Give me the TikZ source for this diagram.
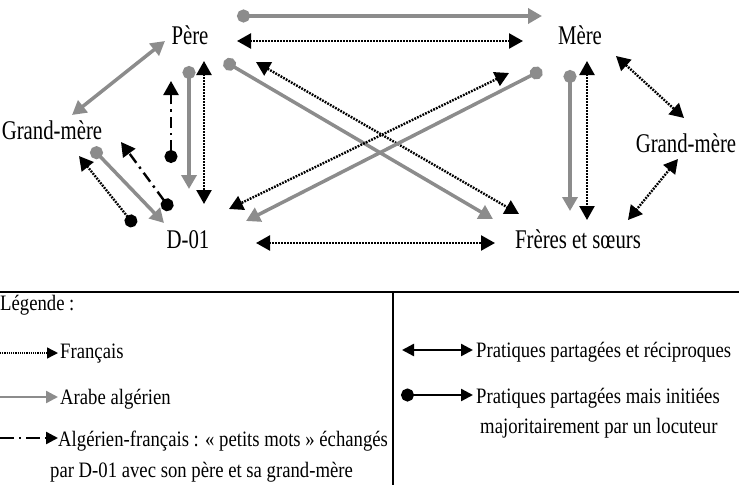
\documentclass[tikz,border=0pt]{standalone}
\usepackage{fontspec}
\setmainfont{Liberation Serif}
\newfontfamily\labelfont[FakeStretch=0.77]{Liberation Serif}
\newfontfamily\legfont[FakeStretch=0.85]{Liberation Serif}
\usetikzlibrary{arrows.meta}
\definecolor{grayline}{HTML}{8C8C8C}
\tikzset{
  lbl/.style={inner sep=0pt, anchor=base, font=\labelfont\fontsize{27}{30}\selectfont},
  leg/.style={inner sep=0pt, anchor=base west, font=\legfont\fontsize{22}{25}\selectfont},
  fr/.style={black, line width=2.4pt, dash pattern=on 1.8pt off 1.2pt},
  ar/.style={grayline, line width=3.5pt},
  af/.style={black, line width=2.4pt, dash pattern=on 11pt off 5pt on 2.4pt off 5pt},
  tri/.style={-{Triangle[length=14pt,width=16pt]}},
  dtri/.style={{Triangle[length=14pt,width=15pt]}-{Triangle[length=14pt,width=15pt]}},
  dot/.style={{Circle[length=13pt]}-{Triangle[length=14pt,width=15pt]}},
}
\begin{document}
\begin{tikzpicture}[x=1pt,y=-1pt]
\useasboundingbox (0,0) rectangle (739,485);
% nodes
\node[lbl] (pere) at (190,44) {Père};
\node[lbl] (mere) at (580,44) {Mère};
\node[lbl] (gml) at (52,139) {Grand-mère};
\node[lbl] (gmr) at (686,152) {Grand-mère};
\node[lbl] (d01) at (188,248) {D-01};
\node[lbl] (fs) at (578,248) {Frères et sœurs};
% coordinates
\coordinate (a1) at (237,16); \coordinate (a2) at (542,16);
\coordinate (b1) at (237,41); \coordinate (b2) at (523,41);
\coordinate (c1) at (165,41); \coordinate (c2) at (72,115);
\coordinate (e1) at (189,66); \coordinate (e2) at (189,189);
\coordinate (f1) at (204,61); \coordinate (f2) at (204,204);
\coordinate (g1) at (171,163); \coordinate (g2) at (171,81);
\coordinate (h1) at (92,148); \coordinate (h2) at (164,223);
\coordinate (i1) at (135,226); \coordinate (i2) at (79,156);
\coordinate (j1) at (171,210); \coordinate (j2) at (121,142);
\coordinate (k1) at (224,61); \coordinate (k2) at (493,219);
\coordinate (l1) at (256,62); \coordinate (l2) at (519,214);
\coordinate (m1) at (509,73); \coordinate (m2) at (229,209);
\coordinate (n1) at (542,70); \coordinate (n2) at (246,221);
\coordinate (o1) at (570,70); \coordinate (o2) at (570,211);
\coordinate (p1) at (587,61); \coordinate (p2) at (587,220);
\coordinate (q1) at (616,56); \coordinate (q2) at (684,118);
\coordinate (r1) at (678,159); \coordinate (r2) at (628,220);
\coordinate (s1) at (256,243); \coordinate (s2) at (495,243);
% connectors
\draw[ar,dot] (a1) -- (a2);
\draw[fr,dtri] (b1) -- (b2);
\draw[ar,dtri] (c1) -- (c2);
\draw[ar,dot] (e1) -- (e2);
\draw[fr,dtri] (f1) -- (f2);
\draw[af,dot] (g1) -- (g2);
\draw[ar,dot] (h1) -- (h2);
\draw[fr,dot] (i1) -- (i2);
\draw[af,dot] (j1) -- (j2);
\draw[ar,dot] (k1) -- (k2);
\draw[fr,dtri] (l1) -- (l2);
\draw[fr,dtri] (m1) -- (m2);
\draw[ar,dot] (n1) -- (n2);
\draw[ar,dot] (o1) -- (o2);
\draw[fr,dtri] (p1) -- (p2);
\draw[fr,dtri] (q1) -- (q2);
\draw[fr,dtri] (r1) -- (r2);
\draw[fr,dtri] (s1) -- (s2);
% legend frame
\coordinate (hl1) at (0,292); \coordinate (hl2) at (739,292);
\coordinate (vl1) at (393,292); \coordinate (vl2) at (393,485);
\draw[line width=1.2pt] (hl1) -- (hl2);
\draw[line width=1.2pt] (vl1) -- (vl2);
% legend entries
\node[leg] (lg) at (0,310) {Légende :};
\coordinate (lf1) at (0,353); \coordinate (lf2) at (58,353);
\draw[black, line width=1.4pt, dash pattern=on 1.2pt off 1pt, -{Triangle[length=11pt,width=11pt]}] (lf1) -- (lf2);
\node[leg] (lft) at (60,358) {Français};
\coordinate (la1) at (0,397); \coordinate (la2) at (58,397);
\draw[grayline, line width=2.4pt, -{Triangle[length=12pt,width=12pt]}] (la1) -- (la2);
\node[leg] (lat) at (60,404) {Arabe algérien};
\coordinate (lh1) at (0,438); \coordinate (lh2) at (58,438);
\draw[black, line width=2.4pt, dash pattern=on 14pt off 5pt on 2.4pt off 5pt, -{Triangle[length=12pt,width=12pt]}] (lh1) -- (lh2);
\node[leg] (lht) at (58,446) {Algérien-français : « petits mots » échangés};
\node[leg] (lht2) at (50,477) {par D-01 avec son père et sa grand-mère};
\coordinate (lr1) at (402,350); \coordinate (lr2) at (473,350);
\draw[black, line width=2.4pt, {Triangle[length=12pt,width=12pt]}-{Triangle[length=12pt,width=12pt]}] (lr1) -- (lr2);
\node[leg] (lrt) at (476,357) {Pratiques partagées et réciproques};
\coordinate (ld1) at (401,395); \coordinate (ld2) at (473,395);
\draw[black, line width=2.4pt, {Circle[length=13pt]}-{Triangle[length=12pt,width=12pt]}] (ld1) -- (ld2);
\node[leg] (ldt) at (476,403) {Pratiques partagées mais initiées};
\node[leg] (ldt2) at (480,433) {majoritairement par un locuteur};
\end{tikzpicture}
\end{document}
